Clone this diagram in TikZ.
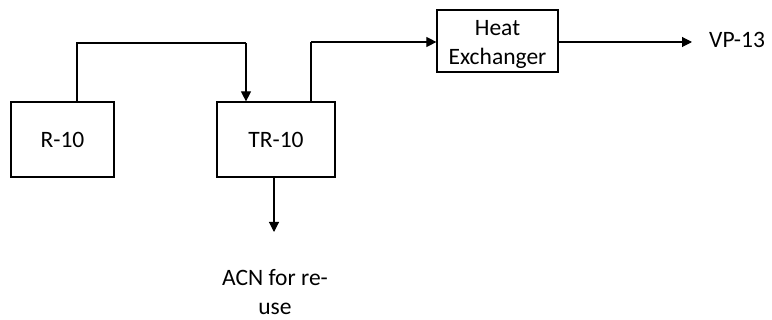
\documentclass[tikz,border=0pt]{standalone}
\usepackage{fontspec}
\setmainfont{Carlito}
\usetikzlibrary{arrows.meta}
\begin{document}
\begin{tikzpicture}[x=1pt,y=-1pt,
  box/.style={draw, line width=1.2pt, inner sep=0pt, align=center, font=\fontsize{23.5}{29}\selectfont},
  lbl/.style={inner sep=0pt, align=center, font=\fontsize{23.5}{29}\selectfont},
  flow/.style={line width=1.1pt},
  arr/.style={flow, -{Triangle[width=10pt,length=10pt]}}]
\useasboundingbox (0,0) rectangle (772,320);
\node[box, minimum width=103pt, minimum height=75pt] (r) at (62.5,139.5) {R-10};
\node[box, minimum width=118pt, minimum height=75pt] (tr) at (276,139.5) {TR-10};
\node[box, minimum width=121pt, minimum height=62pt] (hx) at (497.5,41) {};
\node[lbl] (hxt) at ([yshift=-3pt]hx.center) {Heat\\Exchanger};
\node[lbl, anchor=base west] (vp) at (709,48) {VP-13};
\node[lbl, anchor=north] (acn) at (275,269) {ACN for re-\\use};
\coordinate (j1) at (77,43);
\coordinate (j2) at (246,43);
\coordinate (j3) at (311,42);
\coordinate (e1) at (692,42);
\coordinate (e2) at (274,232);
\draw[flow] (r.north -| j1) -- (j1) -- (j2);
\draw[arr] (j2) -- (j2 |- tr.north);
\draw[flow] (tr.north -| j3) -- (j3);
\draw[arr] (j3) -- (j3 -| hx.west);
\draw[arr] (hx.east |- e1) -- (e1);
\draw[arr] (tr.south -| e2) -- (e2);
\end{tikzpicture}
\end{document}
